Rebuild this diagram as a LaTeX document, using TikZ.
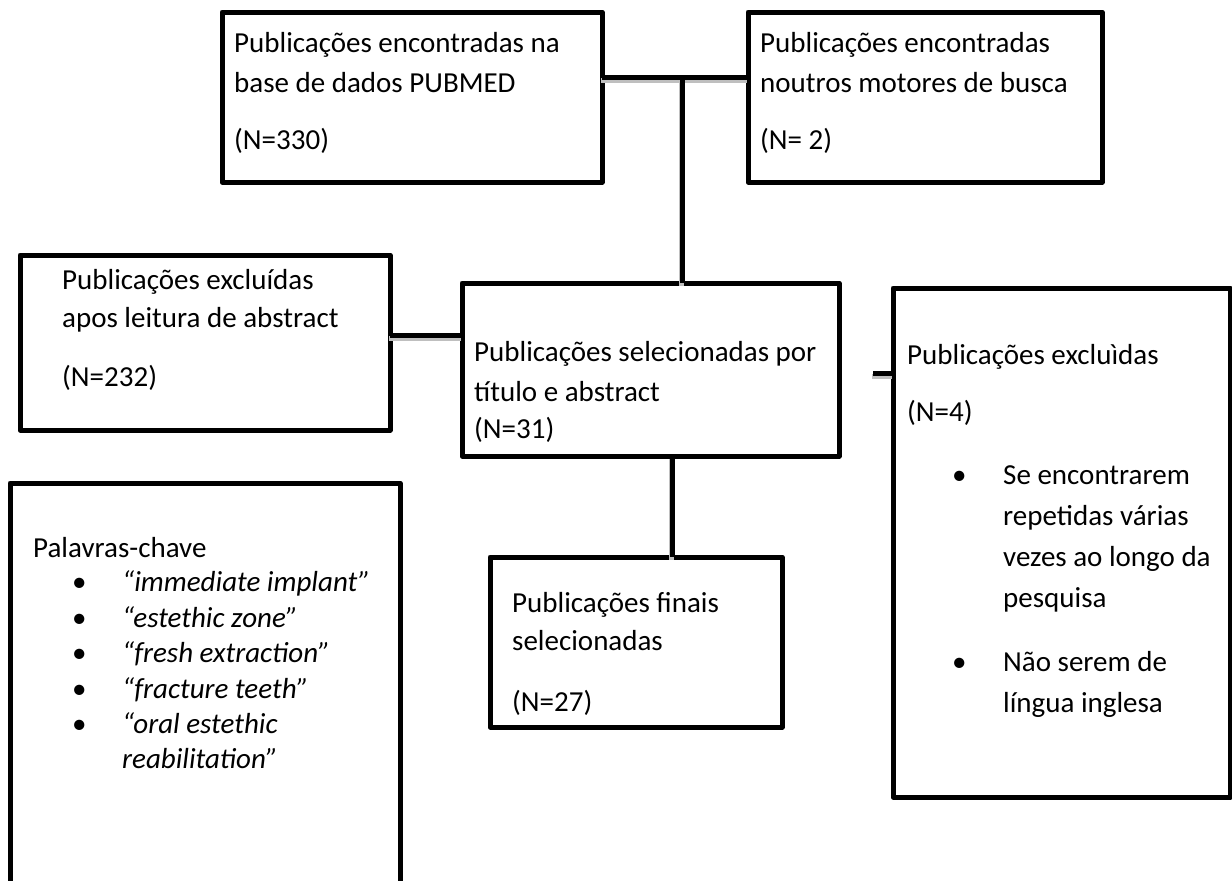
\documentclass[tikz,border=0pt]{standalone}
\usepackage{fontspec}
\setmainfont{Carlito}
\usetikzlibrary{positioning}

\begin{document}
\begin{tikzpicture}
[x=1pt,y=-1pt,
  boxDecorate/.style={rectangle,draw,line width=5pt,line join=round,inner sep=0pt,outer sep=0pt,anchor=north west},
  lineDecorate/.style={-,line width=5pt,
    preaction={draw=black!25,line width=5pt,transform canvas={shift={(-1pt,-3pt)}}}},
  textDecorate/.style={anchor=base west,inner sep=0pt,font=\fontsize{29}{35}\selectfont},
  keyDecorate/.style={textDecorate,font=\fontsize{29}{35}\selectfont\itshape}]
\useasboundingbox (0,0) rectangle (1232,881);
%%
%%%%%%%%%%%%%%%%%%%%%%%%%%%%%%%%%%%%%%%%%%%%%%%%%%%%%%%%%%%%%%%%%%%%%%%%%%%
%%
%% boxes
\foreach \nodename/\x/\y/\w/\h in {
  pubmed/222/12/380/170, outros/748/12/354/170,
  excA/20/255/370/175, selec/462/283/377/173,
  finais/490/557/292/170, excB/893/288/337/509,
  chave/10/483/390/420}
{
  \node (\nodename) at (\x,\y) [boxDecorate,minimum width=\w pt,minimum height=\h pt] {};
}
%%
%% texts in the boxes
\foreach \nodename/\x/\y/\txt in {
  pubmedA/234/52/Publicações encontradas na,
  pubmedB/234/92/base de dados PUBMED,
  pubmedN/234/149/(N=330),
  outrosA/760/52/Publicações encontradas,
  outrosB/760/92/noutros motores de busca,
  outrosN/760/149/(N= 2),
  excAA/62/289/Publicações excluídas,
  excAB/62/327/apos leitura de abstract,
  excAN/62/386/(N=232),
  selecA/474/361/Publicações selecionadas por,
  selecB/474/401/título e abstract,
  selecN/474/438/(N=31),
  finaisA/512/612/Publicações finais,
  finaisB/512/650/selecionadas,
  finaisN/512/711/(N=27),
  excBA/907/364/Publicações excluìdas,
  excBN/907/421/(N=4),
  excBC/1003/484/Se encontrarem,
  excBD/1003/525/repetidas várias,
  excBE/1003/566/vezes ao longo da,
  excBF/1003/607/pesquisa,
  excBG/1003/671/Não serem de,
  excBH/1003/712/língua inglesa,
  chaveA/33/557/Palavras-chave}
{
  \node (\nodename) at (\x,\y) [textDecorate] {\txt};
}
%% bullets
\foreach \nodename/\x/\y in {
  dotB1/952/484, dotB2/952/671,
  dotK1/72/591, dotK2/72/627, dotK3/72/662, dotK4/72/698, dotK5/72/733}
{
  \node (\nodename) at (\x,\y) [textDecorate] {\textbullet};
}
%% keywords
\foreach \nodename/\y/\txt in {
  key1/591/“immediate implant”,
  key2/627/“estethic zone”,
  key3/662/“fresh extraction”,
  key4/698/“fracture teeth”,
  key5/733/“oral estethic,
  key6/768/reabilitation”}
{
  \node (\nodename) at (122,\y) [keyDecorate] {\txt};
}
%%
%%%%%%%%%%%%%%%%%%%%%%%%%%%%%%%%%%%%%%%%%%%%%%%%%%%%%%%%%%%%%%%%%%%%%%%%%%%
%%
%% connectors
\coordinate (junc) at (682,77);
\coordinate (jointA) at (390,335);
\coordinate (jointB) at (672,456);
\coordinate (stubB) at (873,373);
\draw[lineDecorate] (junc -| pubmed.east) -- (junc -| outros.west);
\draw[lineDecorate] (junc) -- (junc |- selec.north);
\draw[lineDecorate] (jointA) -- (jointA -| selec.west);
\draw[lineDecorate] (jointB) -- (jointB |- finais.north);
\draw[lineDecorate] (stubB) -- (stubB -| excB.west);
\end{tikzpicture}
\end{document}
